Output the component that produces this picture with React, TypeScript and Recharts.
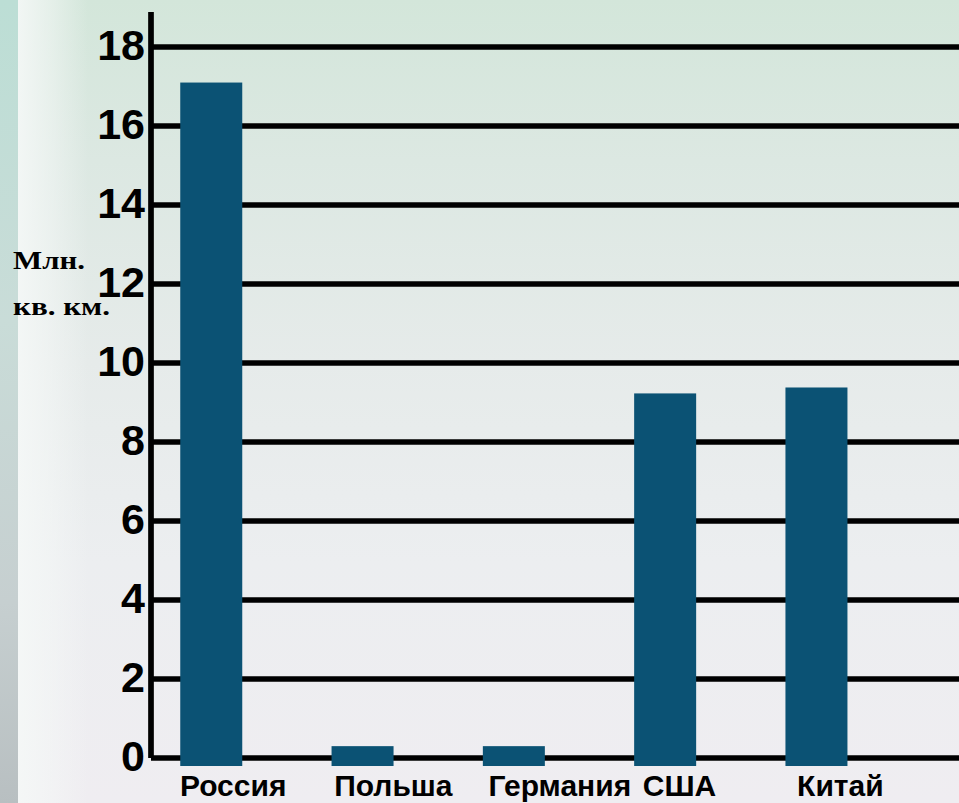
import React from 'react';
import { BarChart, Bar, XAxis, YAxis, CartesianGrid } from 'recharts';

const categories = ['Россия', 'Польша', 'Германия', 'США', 'Китай'];
const areaValues = [17.1, 0.3, 0.3, 9.23, 9.38];
const yTicks = [0, 2, 4, 6, 8, 10, 12, 14, 16, 18];
const unitLines = ['Млн.', 'кв. км.'];

const data = categories.map((name, i) => ({ name, value: areaValues[i] }));

const SANS = '"Liberation Sans", Arial, Helvetica, sans-serif';
const SERIF = '"Liberation Serif", "Times New Roman", serif';
const BAR_COLOR = '#0b5274';

const YTick = (props: any) => {
  const { x, y, payload } = props;
  return (
    <text x={x} y={y - 2} dy="0.36em" textAnchor="end" fontFamily={SANS} fontWeight="bold" fontSize={43} fill="#000">
      {payload.value}
    </text>
  );
};

const XTick = (props: any) => {
  const { x, y, payload, index } = props;
  const idx = typeof index === 'number' ? index : 0;
  return (
    <text x={x - 31 + 3 * idx} y={y + 38} textAnchor="start" fontFamily={SANS} fontWeight="bold" fontSize={30} fill="#000">
      {payload.value}
    </text>
  );
};

const BarShape = (props: any) => {
  const { x, y, width, height } = props;
  return <rect x={x} y={y} width={width} height={Math.max(0, height) + 8} fill={BAR_COLOR} />;
};

const GridLine = (props: any) => {
  const { x1, y1, x2, y2, y } = props;
  if (typeof y === 'number' && Math.abs(y1 - y) < 1) return <g />;
  return <line x1={x1} y1={y1} x2={x2} y2={y2} stroke="#000" strokeWidth={5.5} />;
};

const UnitLabel = (props: any) => {
  const vb = props.viewBox || { x: 0, y: 12 };
  const bx = (vb.x || 0) + 13;
  const by = vb.y || 12;
  return (
    <g>
      <text x={bx} y={by + 257} fontFamily={SERIF} fontWeight="bold" fontSize={25} fill="#000" textLength={72} lengthAdjust="spacingAndGlyphs">
        {unitLines[0]}
      </text>
      <text x={bx} y={by + 303} fontFamily={SERIF} fontWeight="bold" fontSize={26} fill="#000" textLength={97} lengthAdjust="spacingAndGlyphs">
        {unitLines[1]}
      </text>
    </g>
  );
};

export default function App() {
  return (
    <div
      style={{
        position: 'absolute',
        left: 0,
        top: 0,
        width: 959,
        height: 803,
        overflow: 'hidden',
        background:
          'linear-gradient(to bottom, #d3e6da 0%, #dce8e2 20%, #e6ebea 45%, #eceef0 70%, #efedf1 100%)',
      }}
    >
      <div
        style={{
          position: 'absolute',
          left: 0,
          top: 0,
          width: 18,
          height: 803,
          background: 'linear-gradient(to bottom, #bcded5 0%, #c9dcd8 40%, #c6cfd0 75%, #b8bfc1 100%)',
        }}
      />
      <div
        style={{
          position: 'absolute',
          left: 18,
          top: 0,
          width: 70,
          height: 803,
          background: 'linear-gradient(to right, rgba(245,248,247,0.9) 0%, rgba(245,248,247,0.5) 50%, rgba(245,248,247,0) 100%)',
        }}
      />
      <div style={{ position: 'absolute', left: 0, top: 0 }}>
        <BarChart width={959} height={803} data={data} margin={{ top: 12, right: 0, bottom: 0, left: 0 }}>
          <CartesianGrid vertical={false} stroke="#000" strokeWidth={5.5} horizontal={<GridLine />} />
          <XAxis
            dataKey="name"
            height={45}
            padding={{ left: -15.75, right: 67.25 }}
            axisLine={false}
            tickLine={false}
            tickSize={0}
            tickMargin={0}
            interval={0}
            tick={<XTick />}
          />
          <YAxis
            width={151}
            type="number"
            domain={[0, 18.886]}
            ticks={yTicks}
            axisLine={{ stroke: '#000', strokeWidth: 5.7 }}
            tickLine={false}
            tickSize={0}
            tickMargin={6}
            tick={<YTick />}
            label={{ content: <UnitLabel /> }}
          />
          <Bar dataKey="value" fill={BAR_COLOR} barSize={62} isAnimationActive={false} shape={<BarShape />} />
        </BarChart>
      </div>
    </div>
  );
}
